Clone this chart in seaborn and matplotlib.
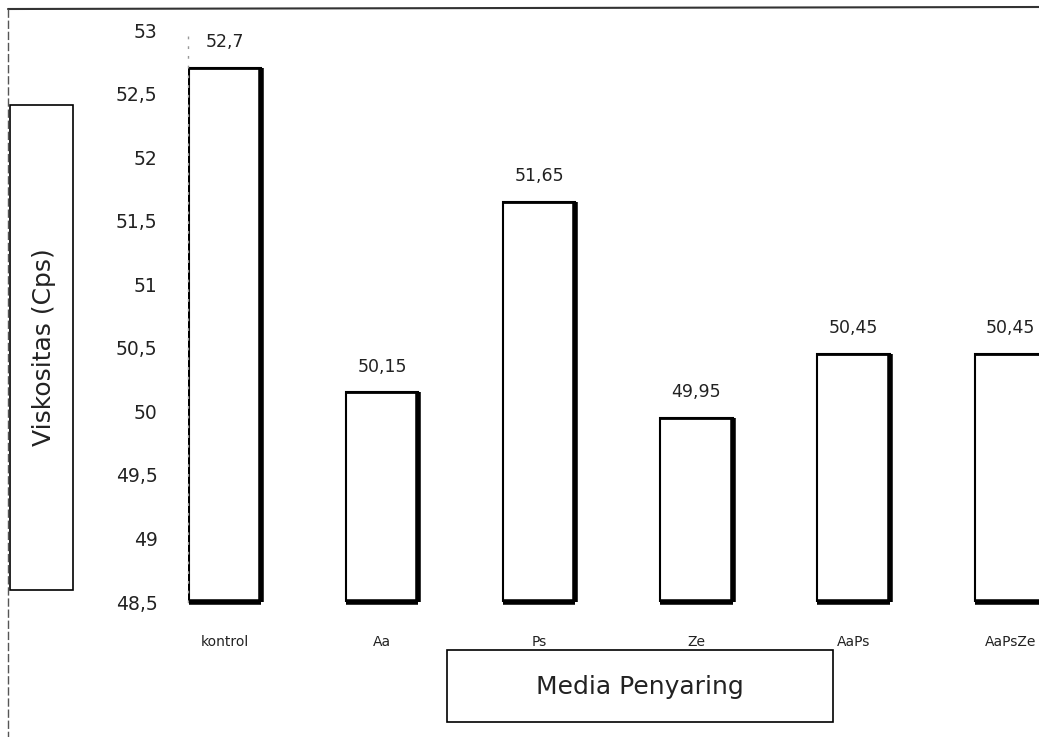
import matplotlib
matplotlib.use("Agg")
import matplotlib.pyplot as plt
import seaborn as sns
import pandas as pd
from matplotlib.patches import Rectangle
from matplotlib.lines import Line2D
from matplotlib.ticker import FuncFormatter, MultipleLocator

categories = ["kontrol", "Aa", "Ps", "Ze", "AaPs", "AaPsZe"]
values = [52.7, 50.15, 51.65, 49.95, 50.45, 50.45]
y_label = "Viskositas (Cps)"
x_label = "Media Penyaring"

df = pd.DataFrame({"media": categories, "viskositas": values})

sns.set_theme(style="white")
plt.rcParams["font.family"] = ["DejaVu Sans"]

fig = plt.figure(figsize=(10.39, 7.37), dpi=100)
ax = fig.add_axes([188 / 1039, 1 - 602 / 737, (1039 - 188) / 1039, (602 - 30) / 737])

sns.barplot(data=df, x="media", y="viskositas", order=categories, color="white",
            edgecolor="black", linewidth=1.5, width=0.46, ax=ax)

ax.set_ylim(48.5, 53)
ax.set_xlim(-0.236, 5.18)
ax.yaxis.set_major_locator(MultipleLocator(0.5))
comma = lambda v, pos=None: f"{v:g}".replace(".", ",")
ax.yaxis.set_major_formatter(FuncFormatter(comma))

# thick right/bottom edges (shadow look), derived from drawn patches
ybot = ax.get_ylim()[0]
for p in ax.patches:
    x0 = p.get_x(); w = p.get_width(); h = p.get_height()
    ax.plot([x0 + w, x0 + w], [ybot, h], color="black", lw=4, solid_capstyle="butt", clip_on=False, zorder=3)
    ax.plot([x0, x0 + w], [ybot, ybot], color="black", lw=4, solid_capstyle="butt", clip_on=False, zorder=3)
    ax.plot([x0, x0 + w], [h, h], color="black", lw=2, solid_capstyle="butt", zorder=3)

for c in ax.containers:
    ax.bar_label(c, fmt=lambda v: f"{v:g}".replace(".", ","), padding=12, fontsize=12.5, color="#222222")

for s in ["top", "right", "bottom"]:
    ax.spines[s].set_visible(False)
ax.spines["left"].set_linestyle((0, (1, 6)))
ax.spines["left"].set_color("#999999")
ax.spines["left"].set_linewidth(1)

ax.tick_params(axis="y", length=0, pad=22, labelsize=13.5, labelcolor="#222222")
ax.tick_params(axis="x", length=0, pad=24, labelsize=10, labelcolor="#222222")
ax.set_xlabel("")
ax.set_ylabel("")

# axis-title boxes
fig.add_artist(Rectangle((10 / 1039, 1 - 590 / 737), 63 / 1039, 485 / 737,
                         transform=fig.transFigure, fill=False, edgecolor="black", lw=1.2))
fig.text(44 / 1039, 1 - 347 / 737, y_label, rotation=90, ha="center", va="center",
         fontsize=18, color="#222222")
fig.add_artist(Rectangle((447 / 1039, 1 - 722 / 737), 386 / 1039, 72 / 737,
                         transform=fig.transFigure, fill=False, edgecolor="black", lw=1.2))
fig.text(640 / 1039, 1 - 687 / 737, x_label, ha="center", va="center",
         fontsize=18, color="#222222")

# outer frame remnants of the scan
fig.add_artist(Line2D([8 / 1039, 1], [1 - 9 / 737, 1 - 7 / 737], transform=fig.transFigure,
                      color="#333333", lw=1.5))
fig.add_artist(Line2D([8 / 1039, 8 / 1039], [1 - 9 / 737, 0], transform=fig.transFigure,
                      color="#555555", lw=1, linestyle=(0, (6, 2))))

fig.savefig("out.png", dpi=100)
